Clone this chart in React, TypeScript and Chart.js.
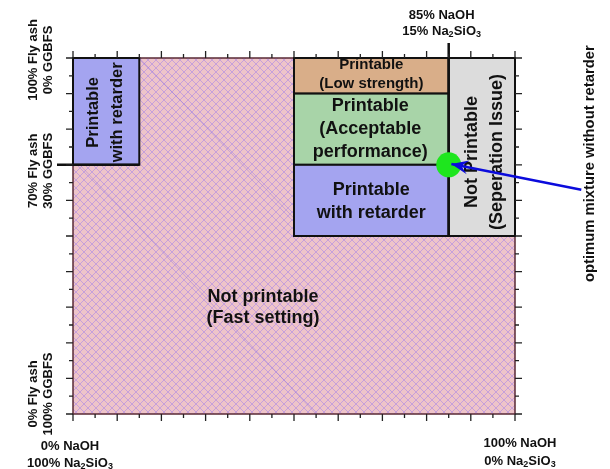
import React, { useEffect, useRef } from 'react';
import { Chart, registerables } from 'chart.js';

Chart.register(...registerables);

// ---- data ----
const pctTicks = [0, 5, 10, 15, 20, 25, 30, 35, 40, 45, 50, 55, 60, 65, 70, 75, 80, 85, 90, 95, 100];

// regions: x = NaOH share (%), y = fly ash share (%)
const regionNames = [
  'Printable\nwith retarder',
  'Printable\n(Low strength)',
  'Printable\n(Acceptable\nperformance)',
  'Printable\nwith retarder',
  'Not Printable\n(Seperation Issue)',
];
const regionX0 = [0, 50, 50, 50, 85];
const regionX1 = [15, 85, 85, 85, 100];
const regionY0 = [70, 90, 70, 50, 50];
const regionY1 = [100, 100, 90, 70, 100];

const backgroundName = 'Not printable\n(Fast setting)';
const backgroundLabelX = [43];
const backgroundLabelY = [30];

const optimumX = [85];
const optimumY = [70];
const arrowX = [115, 85.6];
const arrowY = [63, 70.2];
const arrowText = 'optimum mixture without retarder';

const leftLabels = ['100% Fly ash\n0% GGBFS', '70% Fly ash\n30% GGBFS', '0% Fly ash\n100% GGBFS'];
const leftLabelAt = [100, 70, 0];
const bottomLabelAt = [0, 100];
const bottomLine1 = ['0% NaOH', '100% NaOH'];
const bottomLine2 = [
  [['100% Na', 0], ['2', 1], ['SiO', 0], ['3', 1]],
  [['0% Na', 0], ['2', 1], ['SiO', 0], ['3', 1]],
];
const topLabelAt = [85];
const topLine1 = ['85% NaOH'];
const topLine2 = [[['15% Na', 0], ['2', 1], ['SiO', 0], ['3', 1]]];
const markerX = [85];
const markerY = [70];

// ---- styles ----
const FONT = '"Liberation Sans", Arial, Helvetica, sans-serif';
const regionFill = ['#a4a4f0', '#d9ae89', '#a8d4a8', '#a4a4f0', '#dcdcdc'];
const regionFont = [16.5, 15, 18, 18, 18];
const regionLH = [24, 19, 23, 23, 25];
const regionRot = [true, false, false, false, true];
const regionDX = [-1, 0, -1, 0, 3];
const regionDY = [1, -1.5, 0, 1, 5];
const leftDY = [2, 6, -20];

function makeHatch(ctx: CanvasRenderingContext2D) {
  const s = 8;
  const c = document.createElement('canvas');
  c.width = s;
  c.height = s;
  const g = c.getContext('2d')!;
  g.fillStyle = '#eec4c9';
  g.fillRect(0, 0, s, s);
  g.strokeStyle = '#c6a0da';
  g.lineWidth = 1;
  g.beginPath();
  g.moveTo(-1, -1);
  g.lineTo(s + 1, s + 1);
  g.moveTo(s + 1, -1);
  g.lineTo(-1, s + 1);
  g.stroke();
  return ctx.createPattern(c, 'repeat');
}

function drawLines(ctx: CanvasRenderingContext2D, text: string, cx: number, cy: number, size: number, lh: number, rot: boolean) {
  const lines = text.split('\n');
  ctx.save();
  ctx.translate(cx, cy);
  if (rot) ctx.rotate(-Math.PI / 2);
  ctx.font = `bold ${size}px ${FONT}`;
  ctx.fillStyle = '#111';
  ctx.textAlign = 'center';
  ctx.textBaseline = 'middle';
  lines.forEach((l, i) => {
    ctx.fillText(l, 0, (i - (lines.length - 1) / 2) * lh);
  });
  ctx.restore();
}

function drawRich(ctx: CanvasRenderingContext2D, segs: any[], cx: number, cy: number, size: number) {
  ctx.save();
  ctx.textBaseline = 'middle';
  ctx.textAlign = 'left';
  ctx.fillStyle = '#111';
  const subSize = Math.round(size * 0.7);
  let w = 0;
  segs.forEach(([t, sub]) => {
    ctx.font = `bold ${sub ? subSize : size}px ${FONT}`;
    w += ctx.measureText(t).width;
  });
  let x = cx - w / 2;
  segs.forEach(([t, sub]) => {
    ctx.font = `bold ${sub ? subSize : size}px ${FONT}`;
    ctx.fillText(t, x, cy + (sub ? 4 : 0));
    x += ctx.measureText(t).width;
  });
  ctx.restore();
}

let hatch: CanvasPattern | null = null;

const diagramPlugin = {
  id: 'diagram',
  beforeDatasetsDraw(chart: any) {
    const { ctx, chartArea: a, scales } = chart;
    const xs = scales.x;
    const ys = scales.y;
    if (!hatch) hatch = makeHatch(ctx);
    ctx.save();
    ctx.fillStyle = hatch;
    ctx.fillRect(a.left, a.top, a.right - a.left, a.bottom - a.top);
    // faint diagonal streaks inside hatch
    ctx.strokeStyle = 'rgba(140,110,220,0.5)';
    ctx.lineWidth = 0.8;
    ctx.beginPath();
    ctx.moveTo(xs.getPixelForValue(15), ys.getPixelForValue(100));
    ctx.lineTo(xs.getPixelForValue(50), ys.getPixelForValue(55));
    ctx.moveTo(xs.getPixelForValue(0), ys.getPixelForValue(72));
    ctx.lineTo(xs.getPixelForValue(55), ys.getPixelForValue(0));
    ctx.stroke();
    // plot border
    ctx.strokeStyle = '#5a2a36';
    ctx.lineWidth = 1.5;
    ctx.strokeRect(a.left, a.top, a.right - a.left, a.bottom - a.top);
    // regions
    regionNames.forEach((name, i) => {
      const x0 = xs.getPixelForValue(regionX0[i]);
      const x1 = xs.getPixelForValue(regionX1[i]);
      const y0 = ys.getPixelForValue(regionY0[i]);
      const y1 = ys.getPixelForValue(regionY1[i]);
      ctx.fillStyle = regionFill[i];
      ctx.fillRect(x0, y1, x1 - x0, y0 - y1);
      ctx.strokeStyle = '#111';
      ctx.lineWidth = 2;
      ctx.strokeRect(x0, y1, x1 - x0, y0 - y1);
    });
    regionNames.forEach((name, i) => {
      const cx = (xs.getPixelForValue(regionX0[i]) + xs.getPixelForValue(regionX1[i])) / 2 + regionDX[i];
      const cy = (ys.getPixelForValue(regionY0[i]) + ys.getPixelForValue(regionY1[i])) / 2 + regionDY[i];
      drawLines(ctx, name, cx, cy, regionFont[i], regionLH[i], regionRot[i]);
    });
    drawLines(ctx, backgroundName, xs.getPixelForValue(backgroundLabelX[0]), ys.getPixelForValue(backgroundLabelY[0]), 18, 21, false);
    // thick marker lines
    ctx.strokeStyle = '#111';
    ctx.lineWidth = 2.5;
    ctx.beginPath();
    const mx = xs.getPixelForValue(markerX[0]);
    ctx.moveTo(mx, a.top - 15);
    ctx.lineTo(mx, ys.getPixelForValue(50));
    const my = ys.getPixelForValue(markerY[0]);
    ctx.moveTo(a.left - 16, my);
    ctx.lineTo(xs.getPixelForValue(15), my);
    ctx.stroke();
    ctx.restore();
  },
  afterDatasetsDraw(chart: any) {
    const { ctx, scales } = chart;
    const xs = scales.x;
    const ys = scales.y;
    const tx = xs.getPixelForValue(arrowX[0]);
    const ty = ys.getPixelForValue(arrowY[0]);
    const hx = xs.getPixelForValue(arrowX[1]);
    const hy = ys.getPixelForValue(arrowY[1]);
    const ang = Math.atan2(hy - ty, hx - tx);
    const L = 17;
    const W = 7;
    ctx.save();
    ctx.translate(hx, hy);
    ctx.rotate(ang);
    ctx.fillStyle = '#0b0bdc';
    ctx.beginPath();
    ctx.moveTo(0, 0);
    ctx.lineTo(-L, -W);
    ctx.lineTo(-L * 0.6, 0);
    ctx.lineTo(-L, W);
    ctx.closePath();
    ctx.fill();
    ctx.restore();
  },
  afterDraw(chart: any) {
    const { ctx, chartArea: a, scales } = chart;
    const xs = scales.x;
    const ys = scales.y;
    ctx.save();
    ctx.strokeStyle = '#222';
    ctx.lineWidth = 1.3;
    ctx.beginPath();
    pctTicks.forEach((v) => {
      const len = v % 10 === 0 ? 7 : 4;
      const px = xs.getPixelForValue(v);
      ctx.moveTo(px, a.bottom);
      ctx.lineTo(px, a.bottom + len);
      ctx.moveTo(px, a.top);
      ctx.lineTo(px, a.top - len);
      const py = ys.getPixelForValue(v);
      ctx.moveTo(a.left, py);
      ctx.lineTo(a.left - len, py);
      ctx.moveTo(a.right, py);
      ctx.lineTo(a.right + len, py);
    });
    ctx.stroke();
    // left labels
    leftLabels.forEach((t, i) => {
      drawLines(ctx, t, a.left - 32.5, ys.getPixelForValue(leftLabelAt[i]) + leftDY[i], 13, 15, true);
    });
    // bottom labels
    bottomLabelAt.forEach((v, i) => {
      const px = xs.getPixelForValue(v) + (i === 0 ? -3 : 5);
      drawLines(ctx, bottomLine1[i], px, a.bottom + (i === 0 ? 32 : 29), 13, 15, false);
      drawRich(ctx, bottomLine2[i], px, a.bottom + (i === 0 ? 49 : 47), 13);
    });
    // top label
    topLabelAt.forEach((v, i) => {
      const px = xs.getPixelForValue(v) - 7;
      drawLines(ctx, topLine1[i], px, a.top - 43, 13, 15, false);
      drawRich(ctx, topLine2[i], px, a.top - 27, 13);
    });
    // arrow caption
    drawLines(ctx, arrowText, a.right + 75, ys.getPixelForValue(arrowY[0]) - 26, 14.8, 15, true);
    ctx.restore();
  },
};

export default function App() {
  const ref = useRef<HTMLCanvasElement>(null);
  useEffect(() => {
    const canvas = ref.current!;
    hatch = null;
    const chart = new Chart(canvas, {
      type: 'scatter',
      data: {
        datasets: [
          {
            label: 'optimum',
            data: optimumX.map((x, i) => ({ x, y: optimumY[i] })),
            pointRadius: 12.5,
            pointHoverRadius: 12.5,
            backgroundColor: '#1ee61e',
            borderWidth: 0,
            order: 2,
            clip: false as any,
          },
          {
            label: 'arrow',
            data: arrowX.map((x, i) => ({ x, y: arrowY[i] })),
            showLine: true,
            borderColor: '#0b0bdc',
            borderWidth: 2.5,
            pointRadius: 0,
            order: 1,
            clip: false as any,
          },
        ],
      },
      options: {
        responsive: false,
        animation: false,
        events: [],
        layout: { padding: { left: 73, top: 58, right: 95, bottom: 55 } },
        plugins: { legend: { display: false }, tooltip: { enabled: false } },
        scales: {
          x: { type: 'linear', min: 0, max: 100, display: false },
          y: { type: 'linear', min: 0, max: 100, display: false },
        },
      },
      plugins: [diagramPlugin],
    });
    return () => chart.destroy();
  }, []);
  return (
    <div style={{ position: 'fixed', left: 0, top: 0, width: 610, height: 469, background: '#fff' }}>
      <canvas ref={ref} width={610} height={469} />
    </div>
  );
}
